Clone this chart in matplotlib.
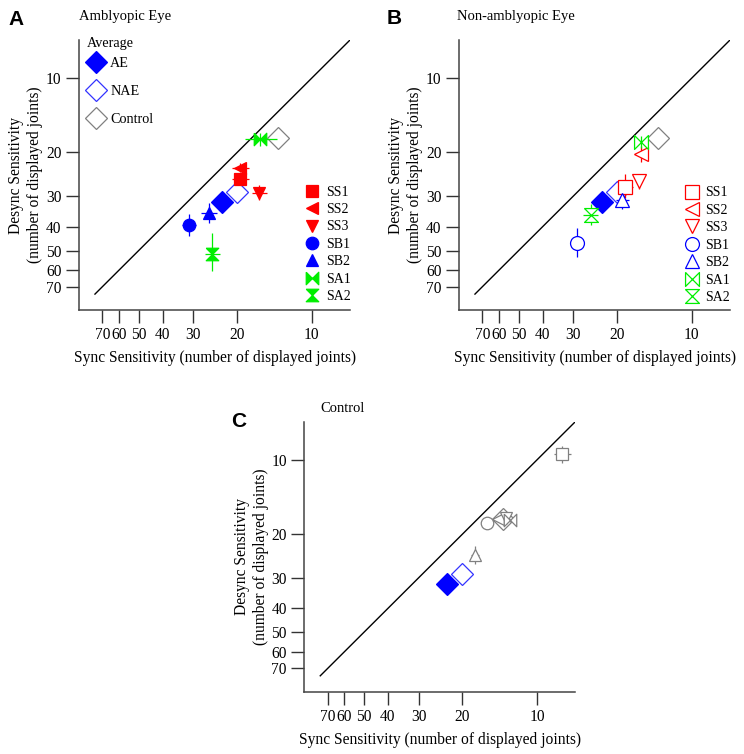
import matplotlib
matplotlib.use("Agg")
import matplotlib.pyplot as plt
from matplotlib.lines import Line2D

# ---- data (number of displayed joints) ----
subjects = ['SS1', 'SS2', 'SS3', 'SB1', 'SB2', 'SA1', 'SA2']

# amblyopic eye
ae_sync = [19.4, 19.4, 16.3, 31.3, 26.0, 16.2, 25.2]
ae_sync_err = [1.5, 1.5, 1.1, 2.1, 2.0, 2.4, 1.7]
ae_desync = [25.7, 23.1, 29.1, 39.5, 35.3, 17.7, 51.4]
ae_desync_err = [1.2, 1.0, 2.1, 4.0, 3.4, 1.1, 9.0]

# non-amblyopic eye
nae_sync = [18.5, 16.0, 16.3, 29.0, 19.1, 16.0, 25.6]
nae_sync_err = [1.3, 0.9, 0.5, 1.8, 1.2, 1.0, 1.8]
nae_desync = [27.5, 20.3, 26.2, 46.6, 31.1, 18.1, 35.8]
nae_desync_err = [3.1, 1.5, 1.8, 6.3, 2.8, 1.0, 3.4]

# control observers
ctrl_sync = [7.9, 14.35, 13.3, 15.9, 17.8, 12.9]
ctrl_sync_err = [0.6, 0.3, 0.3, 0.3, 0.7, 0.3]
ctrl_desync = [9.5, 17.4, 17.2, 18.0, 24.4, 17.6]
ctrl_desync_err = [0.75, 0.3, 0.3, 0.3, 2.0, 0.3]

# group averages (sync, desync)
avg_names = ['AE', 'NAE', 'Control']
avg_sync = [23.0, 20.1, 13.7]
avg_desync = [31.8, 29.0, 17.4]

unity = [75, 7]
tick_vals = [10, 20, 30, 40, 50, 60, 70]
axis_lim = (87, 7)

# ---- styles ----
bowtie = [(-1, 1), (-1, -1), (1, 1), (1, -1), (-1, 1)]
hourglass = [(-1, 1), (1, 1), (-1, -1), (1, -1), (-1, 1)]
subj_markers = ['s', '<', 'v', 'o', '^', bowtie, hourglass]
subj_colors = ['#ff0000'] * 3 + ['#0000ff'] * 2 + ['#00ee00'] * 2
ctrl_markers = ['s', '<', 'v', 'o', '^', bowtie]
GRAY = '#808080'
avg_face = ['#0000ff', 'none', 'none']
avg_edge = ['#0000ff', '#3333ff', GRAY]

plt.rcParams['font.family'] = 'Liberation Serif'
plt.rcParams['font.size'] = 11.2

fig = plt.figure(figsize=(7.44, 7.54), dpi=100)
W, H = 744, 754


def make_axes(left_px, bottom_px):
    ax = fig.add_axes([left_px / W, (H - bottom_px) / H, 271 / W, 270 / H])
    ax.set_xscale('log')
    ax.set_yscale('log')
    ax.set_xlim(*axis_lim)
    ax.set_ylim(*axis_lim)
    ax.set_xticks(tick_vals)
    ax.set_yticks(tick_vals)
    ax.set_xticklabels([str(t) for t in tick_vals])
    ax.set_yticklabels([str(t) for t in tick_vals])
    ax.minorticks_off()
    for s in ['top', 'right']:
        ax.spines[s].set_visible(False)
    for s in ['left', 'bottom']:
        ax.spines[s].set_color('#444444')
        ax.spines[s].set_linewidth(1.1)
    ax.tick_params(direction='out', length=9.5, width=1.0, color='#333333', pad=3.0)
    ax.set_xlabel('Sync Sensitivity (number of displayed joints)', labelpad=5)
    ax.set_ylabel('Desync Sensitivity\n(number of displayed joints)', labelpad=2,
                  linespacing=1.25)
    ax.plot(unity, unity, color='black', lw=1.0, zorder=1)
    return ax


def draw_averages(ax):
    for i in range(len(avg_names)):
        ax.plot(avg_sync[i], avg_desync[i], marker='D', ms=11.5, linestyle='none',
                mfc=avg_face[i], mec=avg_edge[i], mew=0.9, zorder=3 if i else 4)


def draw_subjects(ax, xs, xe, ys, ye, filled):
    for i in range(len(subjects)):
        c = subj_colors[i]
        ax.errorbar(xs[i], ys[i], xerr=xe[i], yerr=ye[i], fmt='none',
                    ecolor=c, elinewidth=0.9, capsize=0, zorder=5)
        ax.plot(xs[i], ys[i], marker=subj_markers[i], linestyle='none',
                ms=9 if filled else 10, mfc=c if filled else 'white', mec=c,
                mew=0.9, zorder=6)


def subject_legend(ax, filled, anchor):
    handles = [Line2D([], [], marker=subj_markers[i], linestyle='none',
                      ms=9 if filled else 10, mfc=subj_colors[i] if filled else 'none',
                      mec=subj_colors[i], mew=0.9) for i in range(len(subjects))]
    return ax.legend(handles, subjects, loc='center left', bbox_to_anchor=anchor,
                     frameon=False, borderpad=0, borderaxespad=0, handlelength=1.0,
                     handletextpad=0.5, labelspacing=0.32, fontsize=10)


# ---- panel A ----
axA = make_axes(79, 310)
draw_averages(axA)
draw_subjects(axA, ae_sync, ae_sync_err, ae_desync, ae_desync_err, True)
avg_handles = [Line2D([], [], marker='D', linestyle='none', ms=11.5, mfc=avg_face[i],
                      mec=avg_edge[i], mew=0.9) for i in range(len(avg_names))]
leg = axA.legend(avg_handles, avg_names, loc='upper left', bbox_to_anchor=(0.024, 0.936),
                 frameon=False, borderpad=0, borderaxespad=0, handlelength=1.45,
                 handletextpad=0.3, labelspacing=1.05, fontsize=10.2)
axA.add_artist(leg)
axA.text(0.028, 0.988, 'Average', transform=axA.transAxes, fontsize=10.2,
         ha='left', va='center')
subject_legend(axA, True, (0.834, 0.243))

# ---- panel B ----
axB = make_axes(459, 310)
draw_averages(axB)
draw_subjects(axB, nae_sync, nae_sync_err, nae_desync, nae_desync_err, False)
subject_legend(axB, False, (0.833, 0.24))

# ---- panel C ----
axC = make_axes(304.3, 691.7)
draw_averages(axC)
for i in range(len(ctrl_sync)):
    axC.errorbar(ctrl_sync[i], ctrl_desync[i], xerr=ctrl_sync_err[i], yerr=ctrl_desync_err[i],
                 fmt='none', ecolor=GRAY, elinewidth=0.9, capsize=0, zorder=5)
    axC.plot(ctrl_sync[i], ctrl_desync[i], marker=ctrl_markers[i], linestyle='none',
             ms=9, mfc='white', mec=GRAY, mew=0.9, zorder=6)

# ---- panel letters and titles ----
for letter, x, y in [('A', 16, 19.5), ('B', 393.7, 18.3), ('C', 239, 421.7)]:
    fig.text(x / W, 1 - y / H, letter, fontsize=15, fontweight='bold',
             family='Liberation Sans', ha='center', va='center')
for title, x, y in [('Amblyopic Eye', 79.3, 16.7), ('Non-amblyopic Eye', 457.3, 16.7),
                    ('Control', 320, 408.3)]:
    fig.text(x / W, 1 - y / H, title, fontsize=10.5, ha='left', va='center')

fig.savefig('out.png', dpi=100)
